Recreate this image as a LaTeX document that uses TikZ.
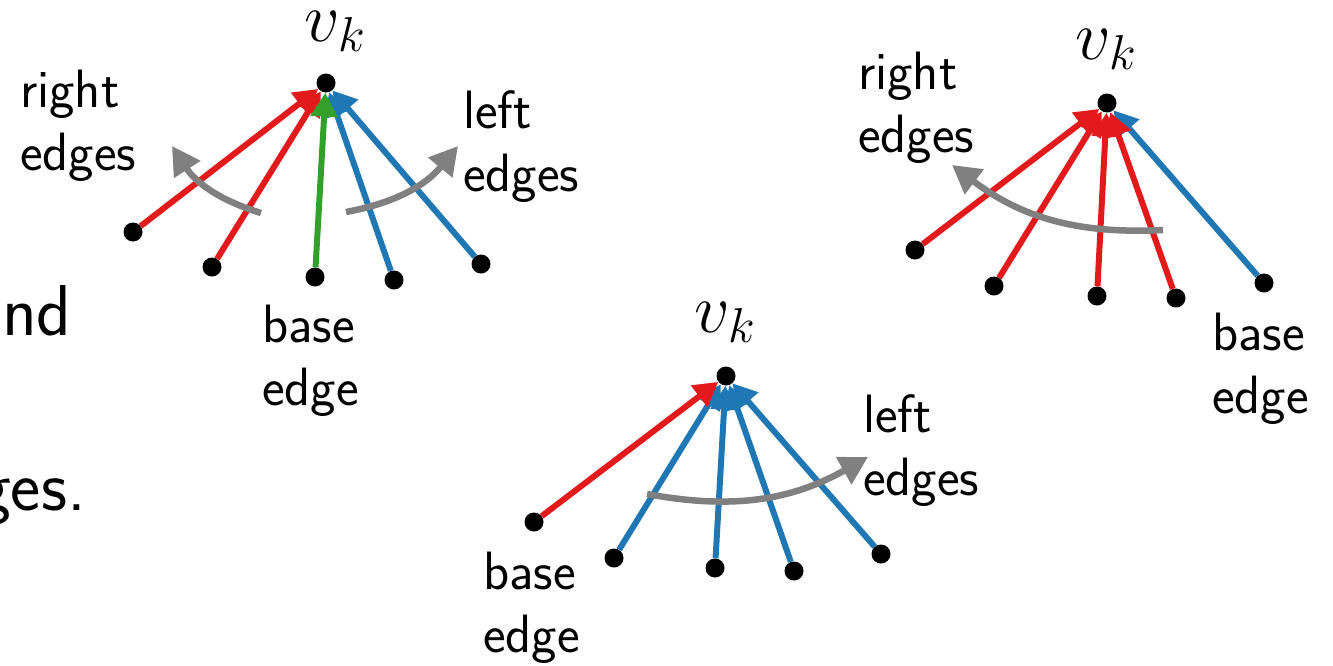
\documentclass[tikz,border=0pt]{standalone}
\usepackage{fix-cm}
\usepackage{fontspec}
\usetikzlibrary{arrows.meta}
\definecolor{cred}{RGB}{227,26,28}
\definecolor{cblue}{RGB}{31,120,180}
\definecolor{cgreen}{RGB}{51,160,44}
\definecolor{cgray}{RGB}{128,128,128}
\pgfdeclarelayer{bg}
\pgfsetlayers{bg,main}
\tikzset{
  dot/.style={circle, fill=black, inner sep=0pt, minimum size=19pt},
  edgeline/.style={line width=6pt, -{Triangle[length=24pt,width=26pt]}},
  redge/.style={edgeline, draw=cred},
  bedge/.style={edgeline, draw=cblue},
  gedge/.style={edgeline, draw=cgreen},
  turn/.style={draw=cgray, line width=6.5pt, -{Triangle[length=28pt,width=30pt]}},
  lbl/.style={font=\fontsize{54}{63}\selectfont\sffamily, align=left, inner sep=0pt, anchor=base west},
  vklbl/.style={font=\fontsize{70}{84}\selectfont, inner sep=0pt, anchor=base},
  bigtext/.style={font=\fontsize{72}{86}\selectfont\sffamily, inner sep=0pt, anchor=base east}
}
\begin{document}
\begin{tikzpicture}[x=1pt,y=-1pt]
\useasboundingbox (0,0) rectangle (1333,665);
\clip (0,0) rectangle (1333,665);

% clipped slide text
\node[bigtext] (t1) at (72,335) {and};
\node[bigtext] (t2) at (86,510) {edges.};

% ---------- graph 1 ----------
\node[vklbl] (vk1l) at (335,41) {$v_k$};
\node[dot] (v1) at (326,83) {};
\node[dot] (a1) at (133,232) {};
\node[dot] (a2) at (212,267) {};
\node[dot] (a3) at (315,277) {};
\node[dot] (a4) at (394,280) {};
\node[dot] (a5) at (481,264) {};
\begin{pgfonlayer}{bg}
\draw[redge] (a1) -- (v1);
\draw[redge] (a2) -- (v1);
\draw[bedge] (a5) -- (v1);
\draw[bedge] (a4) -- (v1);
\draw[gedge] (a3) -- (v1);
\end{pgfonlayer}
\coordinate (g1s) at (261,213);
\coordinate (g1e) at (172,146);
\coordinate (g2s) at (346,212);
\coordinate (g2e) at (458,146);
\draw[turn] (g1s) to[bend left=20] (g1e);
\draw[turn] (g2s) to[bend right=20] (g2e);
\node[lbl] (r1) at (20,170) {right\\edges};
\node[lbl] (l1) at (463,191) {left\\edges};
\node[lbl] (b1) at (262,405) {base\\edge};

% ---------- graph 2 ----------
\node[vklbl] (vk2l) at (725,332) {$v_k$};
\node[dot] (v2) at (726,376) {};
\node[dot] (c1) at (534,522) {};
\node[dot] (c2) at (614,558) {};
\node[dot] (c3) at (715,568) {};
\node[dot] (c4) at (794,571) {};
\node[dot] (c5) at (881,554) {};
\begin{pgfonlayer}{bg}
\draw[bedge] (c2) -- (v2);
\draw[bedge] (c3) -- (v2);
\draw[bedge] (c4) -- (v2);
\draw[bedge] (c5) -- (v2);
\draw[redge] (c1) -- (v2);
\end{pgfonlayer}
\coordinate (g3s) at (647,494);
\coordinate (g3e) at (868,457);
\draw[turn] (g3s) to[bend right=20] (g3e);
\node[lbl] (l2) at (863,495) {left\\edges};
\node[lbl] (b2) at (483,652) {base\\edge};

% ---------- graph 3 ----------
\node[vklbl] (vk3l) at (1106,59) {$v_k$};
\node[dot] (v3) at (1107,103) {};
\node[dot] (d1) at (915,250) {};
\node[dot] (d2) at (994,286) {};
\node[dot] (d3) at (1097,296) {};
\node[dot] (d4) at (1176,298) {};
\node[dot] (d5) at (1264,283) {};
\begin{pgfonlayer}{bg}
\draw[bedge] (d5) -- (v3);
\draw[redge] (d1) -- (v3);
\draw[redge] (d2) -- (v3);
\draw[redge] (d3) -- (v3);
\draw[redge] (d4) -- (v3);
\end{pgfonlayer}
\coordinate (g4s) at (1163,230);
\coordinate (g4e) at (952,165);
\draw[turn] (g4s) to[bend left=20] (g4e);
\node[lbl] (r3) at (858,152) {right\\edges};
\node[lbl] (b3) at (1212,413) {base\\edge};
\end{tikzpicture}
\end{document}
